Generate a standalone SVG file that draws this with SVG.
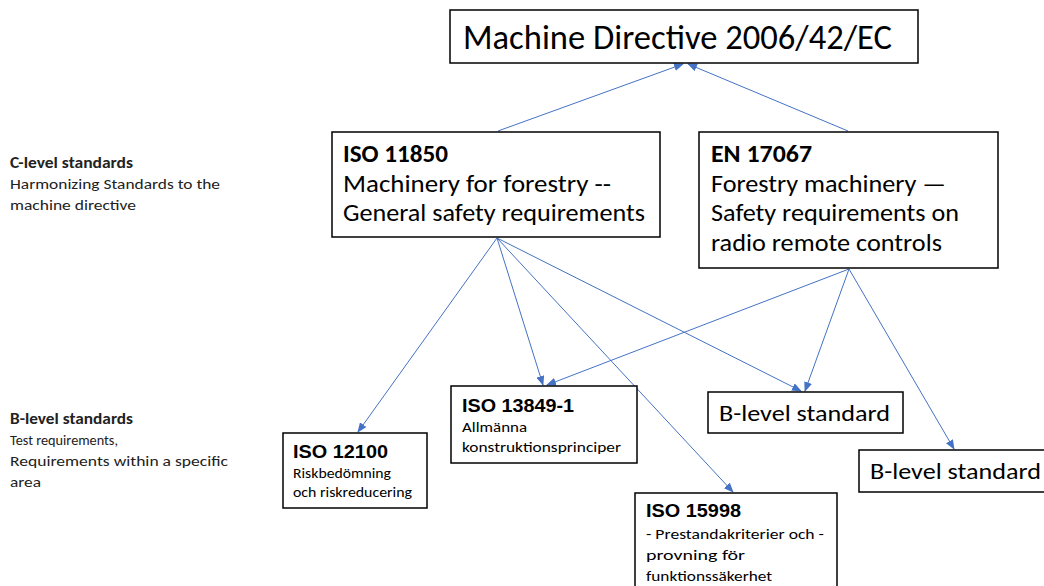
<svg xmlns="http://www.w3.org/2000/svg" width="1044" height="586" viewBox="0 0 1044 586">
  <style>
    .box { fill: #ffffff; stroke: #000000; stroke-width: 1.5; }
    .cal { font-family: Carlito, Lato, "Open Sans", sans-serif; fill: #000000; }
    .ari { font-family: "Liberation Sans", Arial, sans-serif; fill: #000000; font-weight: bold; font-size: 19px; }
    .side { font-family: Carlito, Lato, "Open Sans", sans-serif; fill: #222222; font-size: 15px; }
    .small { font-family: Carlito, Lato, "Open Sans", sans-serif; fill: #000000; font-size: 15px; }
    .b { font-weight: bold; }
    .link { stroke: #4472C4; stroke-width: 1; fill: none; marker-end: url(#arrow); }
  </style>
  <defs>
    <marker id="arrow" markerUnits="userSpaceOnUse" markerWidth="10" markerHeight="8" refX="9" refY="4" orient="auto">
      <path d="M0,0 L10,4 L0,8 Z" fill="#4472C4"/>
    </marker>
  </defs>

  <rect width="1044" height="586" fill="#ffffff"/>

  <!-- side legend -->
  <g id="legend-c">
    <text class="side b" x="10" y="168" textLength="123" lengthAdjust="spacingAndGlyphs">C-level standards</text>
    <text class="side" x="10" y="189" textLength="210" lengthAdjust="spacingAndGlyphs">Harmonizing Standards to the</text>
    <text class="side" x="10" y="210" textLength="126" lengthAdjust="spacingAndGlyphs">machine directive</text>
  </g>
  <g id="legend-b">
    <text class="side b" x="10" y="424" textLength="123" lengthAdjust="spacingAndGlyphs">B-level standards</text>
    <text class="side" x="10" y="445" textLength="108" lengthAdjust="spacingAndGlyphs">Test requirements,</text>
    <text class="side" x="10" y="466" textLength="218" lengthAdjust="spacingAndGlyphs">Requirements within a specific</text>
    <text class="side" x="10" y="487" textLength="31" lengthAdjust="spacingAndGlyphs">area</text>
  </g>

  <!-- connectors -->
  <g id="connectors">
    <line class="link" x1="498" y1="131" x2="683" y2="64"/>
    <line class="link" x1="848" y1="131" x2="688" y2="64"/>
    <line class="link" x1="497" y1="238" x2="358" y2="432"/>
    <line class="link" x1="497" y1="238" x2="543" y2="385"/>
    <line class="link" x1="497" y1="238" x2="801" y2="391"/>
    <line class="link" x1="497" y1="238" x2="733" y2="492"/>
    <line class="link" x1="849" y1="269" x2="547" y2="385"/>
    <line class="link" x1="849" y1="269" x2="805" y2="391"/>
    <line class="link" x1="849" y1="269" x2="954" y2="449"/>
  </g>

  <g id="machine-directive">
    <rect class="box" x="450" y="10" width="468" height="53"/>
    <text class="cal" x="463" y="49" font-size="34" textLength="429" lengthAdjust="spacingAndGlyphs">Machine Directive 2006/42/EC</text>
  </g>

  <g id="iso-11850">
    <rect class="box" x="332" y="132" width="328" height="105"/>
    <text class="cal b" x="343" y="162" font-size="24" textLength="105" lengthAdjust="spacingAndGlyphs">ISO 11850</text>
    <text class="cal" x="343" y="192" font-size="24" textLength="268" lengthAdjust="spacingAndGlyphs">Machinery for forestry --</text>
    <text class="cal" x="343" y="221" font-size="24" textLength="302" lengthAdjust="spacingAndGlyphs">General safety requirements</text>
  </g>

  <g id="en-17067">
    <rect class="box" x="699" y="132" width="299" height="136"/>
    <text class="cal b" x="711" y="162" font-size="24" textLength="101" lengthAdjust="spacingAndGlyphs">EN 17067</text>
    <text class="cal" x="711" y="192" font-size="24" textLength="235" lengthAdjust="spacingAndGlyphs">Forestry machinery —</text>
    <text class="cal" x="711" y="221" font-size="24" textLength="248" lengthAdjust="spacingAndGlyphs">Safety requirements on</text>
    <text class="cal" x="711" y="251" font-size="24" textLength="231" lengthAdjust="spacingAndGlyphs">radio remote controls</text>
  </g>

  <g id="iso-12100">
    <rect class="box" x="283" y="433" width="144" height="75"/>
    <text class="ari" x="293" y="458" textLength="95" lengthAdjust="spacingAndGlyphs">ISO 12100</text>
    <text class="small" x="293" y="478" textLength="98" lengthAdjust="spacingAndGlyphs">Riskbedömning</text>
    <text class="small" x="293" y="497" textLength="119" lengthAdjust="spacingAndGlyphs">och riskreducering</text>
  </g>

  <g id="iso-13849-1">
    <rect class="box" x="451" y="386" width="186" height="77"/>
    <text class="ari" x="462" y="412" textLength="112" lengthAdjust="spacingAndGlyphs">ISO 13849-1</text>
    <text class="small" x="462" y="432" textLength="65" lengthAdjust="spacingAndGlyphs">Allmänna</text>
    <text class="small" x="462" y="452" textLength="159" lengthAdjust="spacingAndGlyphs">konstruktionsprinciper</text>
  </g>

  <g id="b-level-1">
    <rect class="box" x="708" y="392" width="195" height="41"/>
    <text class="cal" x="719" y="421" font-size="22" textLength="171" lengthAdjust="spacingAndGlyphs">B-level standard</text>
  </g>

  <g id="b-level-2">
    <rect class="box" x="859" y="450" width="190" height="42"/>
    <text class="cal" x="870" y="479" font-size="22" textLength="171" lengthAdjust="spacingAndGlyphs">B-level standard</text>
  </g>

  <g id="iso-15998">
    <rect class="box" x="635" y="493" width="202" height="100"/>
    <text class="ari" x="646" y="517" textLength="95" lengthAdjust="spacingAndGlyphs">ISO 15998</text>
    <text class="small" x="646" y="539" textLength="178" lengthAdjust="spacingAndGlyphs">- Prestandakriterier och -</text>
    <text class="small" x="646" y="560" textLength="99" lengthAdjust="spacingAndGlyphs">provning för</text>
    <text class="small" x="646" y="581" textLength="126" lengthAdjust="spacingAndGlyphs">funktionssäkerhet</text>
  </g>
</svg>
